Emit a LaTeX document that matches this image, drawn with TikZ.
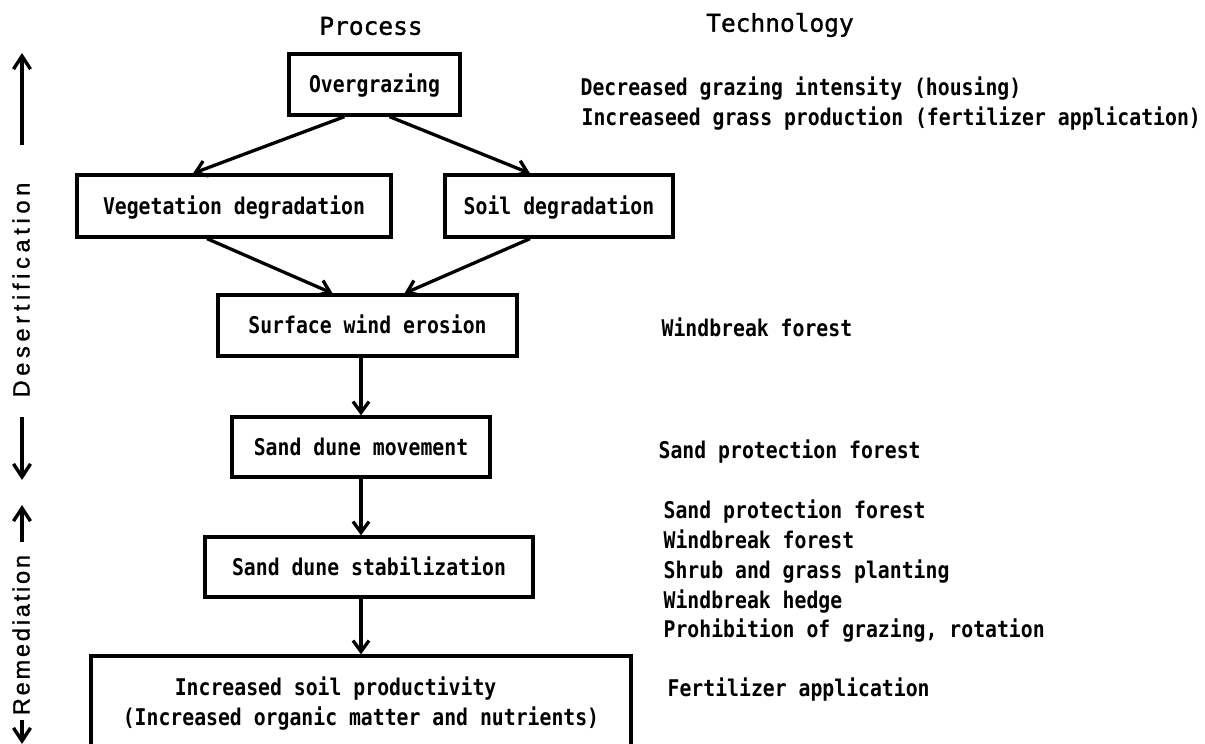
\documentclass[tikz,border=0pt]{standalone}
\usepackage{fontspec}
\usetikzlibrary{arrows.meta}
\newfontfamily\monofont[FakeStretch=0.86]{DejaVu Sans Mono}
\newfontfamily\headfont[FakeBold=1.2]{DejaVu Sans Mono}
\newfontfamily\sidefont[FakeBold=1.2]{Liberation Sans}
\begin{document}
\begin{tikzpicture}[x=1pt, y=-1pt, line width=3.3pt,
  >={Straight Barb[length=11pt,width=16pt]},
  box/.style={draw, rectangle, inner sep=0pt, text height=16pt, text depth=0pt, font=\monofont\bfseries\fontsize{23}{30}\selectfont},
  tech/.style={anchor=west, inner sep=0pt, text height=16pt, text depth=0pt, font=\monofont\bfseries\fontsize{23}{30}\selectfont},
  head/.style={inner sep=0pt, font=\headfont\fontsize{24.5}{29}\selectfont},
  side/.style={rotate=90, inner sep=0pt, text height=17pt, text depth=0pt, font=\sidefont\fontsize{23.5}{28}\selectfont},
  sidearrow/.style={->, line width=3.4pt, >={Straight Barb[length=13pt,width=17pt]}}]
\useasboundingbox (0,0) rectangle (1205,744);
% headings
\node[head] (process) at (371,26) {Process};
\node[head] (tech) at (780,25) {Technology};
% process chain
\node[box, minimum width=171pt, minimum height=61pt] (over) at (374.5,84.5) {Overgrazing};
\node[box, minimum width=314pt, minimum height=62pt] (veg) at (234,206) {Vegetation degradation};
\node[box, minimum width=228pt, minimum height=62pt] (soil) at (559,206) {Soil degradation};
\node[box, minimum width=299pt, minimum height=61pt] (surf) at (367.5,325.5) {Surface wind erosion};
\node[box, minimum width=258pt, minimum height=60pt] (move) at (361,447) {Sand dune movement};
\node[box, minimum width=328pt, minimum height=60pt] (stab) at (369,567) {Sand dune stabilization};
\node[box, minimum width=540pt, minimum height=94pt] (prod) at (361,703) {\begin{tabular}{@{}l@{}} \hspace*{52pt}Increased soil productivity \\ (Increased organic matter and nutrients) \end{tabular}};
\draw[->] ([xshift=-30pt]over.south) -- ([xshift=-41pt]veg.north);
\draw[->] ([xshift=15pt]over.south) -- ([xshift=-29pt]soil.north);
\draw[->] ([xshift=-27pt]veg.south) -- ([xshift=-35pt]surf.north);
\draw[->] ([xshift=-29pt]soil.south) -- ([xshift=37pt]surf.north);
\draw[->] ([xshift=-6.5pt]surf.south) -- (move.north);
\draw[->] (move.south) -- ([xshift=-8pt]stab.north);
\draw[->] ([xshift=-8pt]stab.south) -- (prod.north);
% technology
\node[tech] (t1) at (579,87) {Decreased grazing intensity (housing)};
\node[tech] (t2) at (580,117) {Increaseed grass production (fertilizer application)};
\node[tech] (t3) at (660,328) {Windbreak forest};
\node[tech] (t4) at (657,450) {Sand protection forest};
\node[tech] (t5) at (662,510) {Sand protection forest};
\node[tech] (t6) at (662,540) {Windbreak forest};
\node[tech] (t7) at (662,570) {Shrub and grass planting};
\node[tech] (t8) at (662,600) {Windbreak hedge};
\node[tech] (t9) at (662,629) {Prohibition of grazing, rotation};
\node[tech] (t10) at (666,688) {Fertilizer application};
% side labels
\node[side] (desert) at (21,290) {\addfontfeature{LetterSpace=20}Desertification};
\node[side] (remed) at (21,635) {\addfontfeature{LetterSpace=12}Remediation};
\coordinate (dup1) at (22,145);
\coordinate (dup2) at (22,53);
\coordinate (ddn1) at (22,417);
\coordinate (ddn2) at (22,480);
\coordinate (rup1) at (22,542);
\coordinate (rup2) at (22,505);
\coordinate (rdn1) at (22,720);
\coordinate (rdn2) at (22,744);
\draw[sidearrow] (dup1) -- (dup2);
\draw[sidearrow] (ddn1) -- (ddn2);
\draw[sidearrow] (rup1) -- (rup2);
\draw[sidearrow] (rdn1) -- (rdn2);
\end{tikzpicture}
\end{document}
